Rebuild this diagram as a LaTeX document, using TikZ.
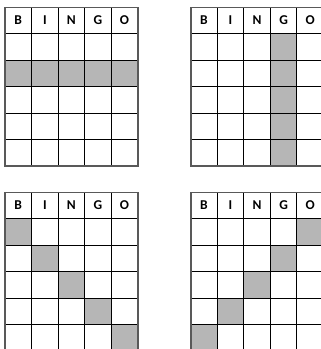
\documentclass[tikz,border=0pt]{standalone}
\usepackage{fontspec}
\setmainfont{Carlito}
\newcommand\cw{26.54}
\newcommand\ch{26.45}
\newcommand\lt[1]{{\fontsize{13.5}{15}\selectfont\bfseries #1}}
\tikzset{
  markcell/.style={fill=gray!50!white!95!black},
  innerline/.style={draw=black,line width=0.9pt},
  outerline/.style={draw=black!65,line width=1.6pt},
  letter/.style={text=black,inner sep=0pt}
}
\newcommand\bingogrid[4]{%
\begin{scope}[shift={(#2,#3)}]
\foreach \c/\r in {#4} \fill[markcell] (\c*\cw,\r*\ch) rectangle ++(\cw,\ch);
\foreach \i in {1,...,4} \draw[innerline] (\i*\cw,0) -- (\i*\cw,6*\ch);
\foreach \i in {1,...,5} \draw[innerline] (0,\i*\ch) -- (5*\cw,\i*\ch);
\draw[outerline] (0,0) rectangle (5*\cw,6*\ch);
\node[letter] (#1-B) at (0.5*\cw,0.5*\ch) {\lt{B}};
\node[letter] (#1-I) at (1.5*\cw,0.5*\ch) {\lt{I}};
\node[letter] (#1-N) at (2.5*\cw,0.5*\ch) {\lt{N}};
\node[letter] (#1-G) at (3.5*\cw,0.5*\ch) {\lt{G}};
\node[letter] (#1-O) at (4.5*\cw,0.5*\ch) {\lt{O}};
\end{scope}}
\begin{document}
\begin{tikzpicture}[x=1pt,y=-1pt]
\useasboundingbox (0,0) rectangle (321,349);
\fill[white] (0,0) rectangle (321,349);
\clip (0,0) rectangle (321,349);
\bingogrid{tl}{5}{7.3}{0/2,1/2,2/2,3/2,4/2}
\bingogrid{tr}{190.7}{7.3}{3/1,3/2,3/3,3/4,3/5}
\bingogrid{bl}{5}{192.3}{0/1,1/2,2/3,3/4,4/5}
\bingogrid{br}{190.7}{192.3}{4/1,3/2,2/3,1/4,0/5}
\end{tikzpicture}
\end{document}
